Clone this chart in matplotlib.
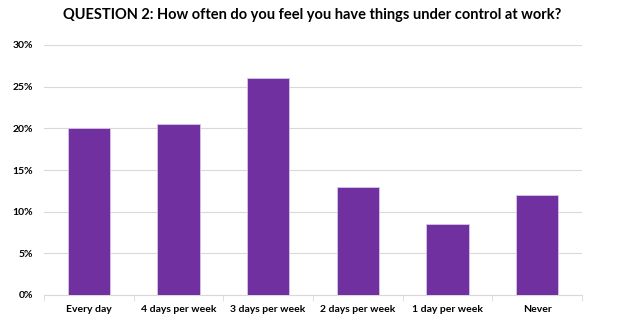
import matplotlib.pyplot as plt
import numpy as np
from matplotlib.ticker import PercentFormatter

categories = ["Every day", "4 days per week", "3 days per week",
              "2 days per week", "1 day per week", "Never"]
values = [20, 20.5, 26, 13, 8.5, 12]

plt.rcParams['font.family'] = ['Lato', 'DejaVu Sans']

fig = plt.figure(figsize=(6.24, 3.28), dpi=100)
ax = fig.add_axes([44 / 624, 33 / 328, 538 / 624, 250 / 328])

x = np.arange(len(categories))
ax.bar(x, values, width=0.47, color="#7030A0", edgecolor="#D9C6E8",
       linewidth=0.6, zorder=3)

ax.set_xlim(-0.5, len(categories) - 0.5)
ax.set_ylim(0, 30)
ax.set_yticks(range(0, 31, 5))
ax.yaxis.set_major_formatter(PercentFormatter(decimals=0))
ax.grid(axis="y", color="#D9D9D9", linewidth=0.8, zorder=0)

ax.set_xticks(x)
ax.set_xticklabels(categories)
ax.set_xticks(np.arange(-0.5, len(categories)), minor=True)
ax.tick_params(axis="x", which="major", length=0, pad=7)
ax.tick_params(axis="x", which="minor", length=4, color="#D9D9D9")
ax.tick_params(axis="y", length=0, pad=8)
for lbl in ax.get_xticklabels() + ax.get_yticklabels():
    lbl.set_fontsize(7.5)
    lbl.set_fontweight("bold")

for side in ["top", "right", "left"]:
    ax.spines[side].set_visible(False)
ax.spines["bottom"].set_color("#D9D9D9")

fig.text(0.5, 0.955, "QUESTION 2: How often do you feel you have things under control at work?",
         ha="center", va="center", fontsize=10.5, fontweight="bold")

fig.savefig("out.png", dpi=100)
